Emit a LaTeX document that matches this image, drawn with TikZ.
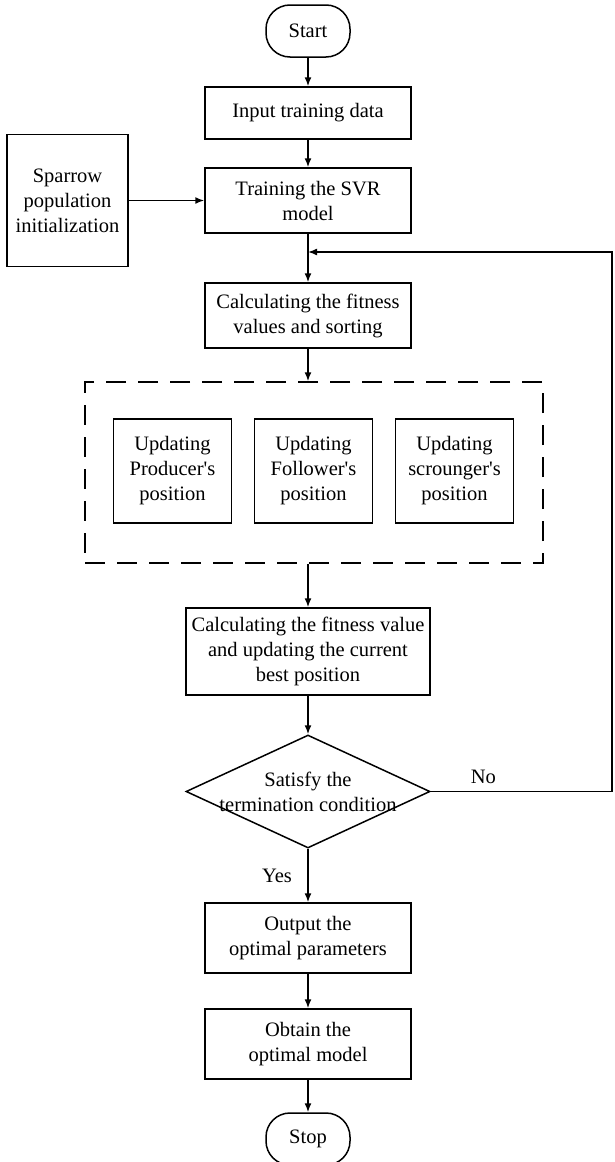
\documentclass[tikz,border=0pt]{standalone}
\usepackage{fontspec}
\setmainfont{Liberation Serif}
\usetikzlibrary{shapes.geometric, arrows.meta}

\begin{document}
\begin{tikzpicture}[auto, >={Latex[length=9pt,width=7pt]}, line width=1.5pt, font=\fontsize{20.5pt}{25pt}\selectfont]
    % Define block styles
    \tikzstyle{block} = [draw, fill=white, rectangle, align=center, inner sep=2pt, minimum width=206pt, minimum height=65pt]
    \tikzstyle{terminal} = [draw, rectangle, rounded corners=24pt, minimum width=84pt, minimum height=52pt]
    \tikzstyle{decision} = [draw, diamond, align=center, inner sep=0pt, minimum width=244pt, minimum height=113pt]
    \tikzstyle{update} = [draw, rectangle, align=center, minimum width=118pt, minimum height=104pt]
    \tikzstyle{group} = [draw, rectangle, dash pattern=on 20pt off 12pt, minimum width=458pt, minimum height=181pt]
    \tikzstyle{point} = [coordinate]

    \useasboundingbox (0,0) rectangle (614pt,-1162pt);

    % Nodes
    \node [terminal] at (308pt,-31pt) (start) {Start};
    \node [block, below of=start, node distance=82pt, minimum height=52pt] (input) {Input training data};
    \node [block, below of=input, node distance=87.5pt] (train) {Training the SVR\\model};
    \node [block, left of=train, node distance=240.5pt, minimum width=121pt, minimum height=132pt] (sparrow) {Sparrow\\population\\initialization};
    \node [block, below of=train, node distance=115pt] (calc1) {Calculating the fitness\\values and sorting};
    \node [group, below of=calc1, node distance=157pt, xshift=6pt] (grp) {};
    \node [update, below of=calc1, node distance=155.5pt, xshift=5.5pt] (follower) {Updating\\Follower\textquotesingle s\\position};
    \node [update, left of=follower, node distance=141pt] (producer) {Updating\\Producer\textquotesingle s\\position};
    \node [update, right of=follower, node distance=141pt] (scrounger) {Updating\\scrounger\textquotesingle s\\position};
    \node [block, below of=grp, node distance=179pt, xshift=-6pt, minimum width=244pt, minimum height=87pt] (calc2) {Calculating the fitness value\\and updating the current\\best position};
    \node [decision, below of=calc2, node distance=140pt] (dec) {\makebox[0pt]{Satisfy the}\\\makebox[0pt]{termination condition}};
    \node [block, below of=dec, node distance=146.5pt, minimum height=70pt] (output) {Output the\\optimal parameters};
    \node [block, below of=output, node distance=106pt, minimum height=70pt] (obtain) {Obtain the\\optimal model};
    \node [terminal, below of=obtain, node distance=95pt] (stop) {Stop};
    \node [point, below of=train, node distance=51.5pt] (join) {};
    \node [point, right of=dec, node distance=304pt] (turn) {};

    % Connections
    \draw [->] (start) -- (input);
    \draw [->] (input) -- (train);
    \draw [->] (sparrow) -- (train);
    \draw [->] (train) -- (calc1);
    \draw [->] (calc1) -- (calc1 |- grp.north);
    \draw [->] (calc1 |- grp.south) -- (calc2);
    \draw [->] (calc2) -- (dec);
    \draw [->] (dec) -- node [left=12pt, pos=0.5] {Yes} (output);
    \draw [->] (dec.east) -- node [above=4pt, pos=0.29] {No} (turn) |- (join);
    \draw [->] (output) -- (obtain);
    \draw [->] (obtain) -- (stop);
\end{tikzpicture}
\end{document}
